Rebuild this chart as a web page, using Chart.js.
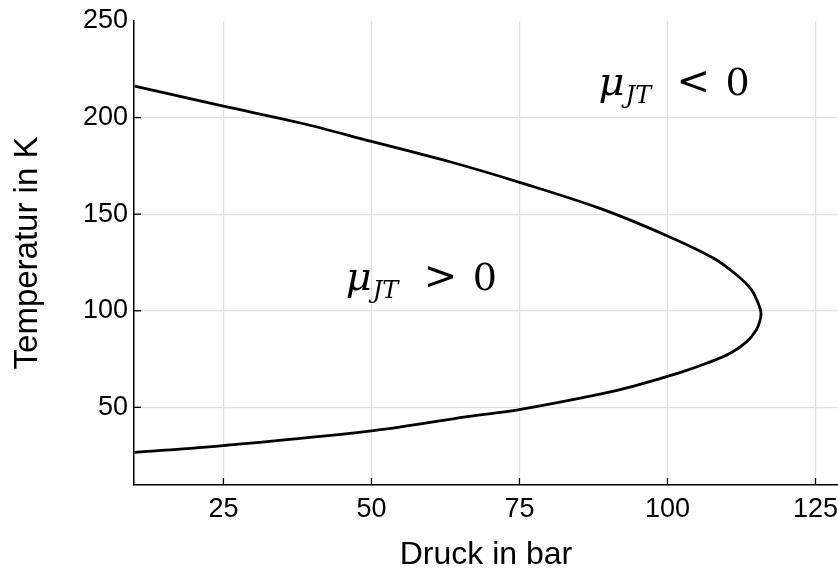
<!DOCTYPE html>
<html>
<head>
<meta charset="utf-8">
<script src="https://cdn.jsdelivr.net/npm/chart.js@4.4.0/dist/chart.umd.min.js"></script>
<style>
  body { margin: 0; background: #fff; }
  canvas { display: block; }
</style>
</head>
<body>
<canvas id="grafico" width="838" height="571"></canvas>
<script>
// Inversionskurve (Druck in bar, Temperatur in K), oberer Ast -> Spitze -> unterer Ast
var druck = [10, 25, 38, 50, 63.4, 75, 88.6, 99.8, 107.8, 111.7, 114.2, 115.5, 115.8, 115.6,
             115.0, 113.4, 110.6, 106.6, 102.1, 94.3, 88.6, 75, 66.2, 50, 25, 10];
var temperatur = [216.3, 205.9, 197.2, 187.7, 177, 166.5, 153, 139, 127.2, 118.5, 110.8, 102.5, 98.7, 94.6,
                  90.1, 84, 78, 72.8, 68, 61, 56.8, 48.8, 45.2, 37.8, 30.2, 26.7];

// Beschriftungen im Diagramm
var labels_mu = [
  { x: 88.7, y: 211.7, rel: '<' },
  { x: 46.0, y: 110.8, rel: '>' }
];

var punkte = druck.map(function (p, i) { return { x: p, y: temperatur[i] }; });

var fonte = "'Liberation Sans', Arial, sans-serif";
var serif = "'DejaVu Serif', serif";

// kleine Striche nach innen + mu-Texte
var extras = {
  id: 'extras',
  afterDatasetsDraw: function (chart) {
    var ctx = chart.ctx, a = chart.chartArea;
    var sx = chart.scales.x, sy = chart.scales.y;
    ctx.save();
    ctx.strokeStyle = '#000';
    ctx.lineWidth = 1.3;
    sx.ticks.forEach(function (t) {
      var px = sx.getPixelForValue(t.value);
      ctx.beginPath(); ctx.moveTo(px, a.bottom); ctx.lineTo(px, a.bottom - 7); ctx.stroke();
    });
    sy.ticks.forEach(function (t) {
      if (t.value >= 250) return;
      var py = sy.getPixelForValue(t.value);
      ctx.beginPath(); ctx.moveTo(a.left, py); ctx.lineTo(a.left + 7, py); ctx.stroke();
    });

    ctx.fillStyle = '#000';
    ctx.textBaseline = 'alphabetic';
    ctx.textAlign = 'left';
    labels_mu.forEach(function (l) {
      var px = sx.getPixelForValue(l.x), py = sy.getPixelForValue(l.y);
      ctx.font = 'italic 40px ' + serif;
      ctx.fillText('\u03bc', px - 2, py);
      ctx.font = 'italic 24px ' + serif;
      ctx.fillText('JT', px + 25, py + 8);
      ctx.font = '40px ' + serif;
      ctx.fillText(l.rel, px + 76, py - 1);
      ctx.font = '38px ' + serif;
      ctx.fillText('0', px + 125, py);
    });
    ctx.restore();
  }
};

new Chart(document.getElementById('grafico'), {
  type: 'scatter',
  data: {
    datasets: [{
      data: punkte,
      showLine: true,
      borderColor: '#000',
      borderWidth: 2.8,
      pointRadius: 0,
      tension: 0.35,
      fill: false
    }]
  },
  options: {
    responsive: false,
    devicePixelRatio: 1,
    animation: false,
    layout: { padding: { top: 21, right: 0, left: 0, bottom: 0 } },
    plugins: { legend: { display: false }, tooltip: { enabled: false } },
    scales: {
      x: {
        type: 'linear',
        min: 9.9,
        max: 128.8,
        afterFit: function (s) { s.height = 86; },
        ticks: { stepSize: 25, includeBounds: false, padding: 0, color: '#000',
                 font: { family: fonte, size: 27 } },
        grid: { color: '#e0e0e0', lineWidth: 1.2, tickLength: 8, tickColor: 'rgba(0,0,0,0)' },
        border: { color: '#000', width: 1.5 },
        title: { display: true, text: 'Druck in bar', color: '#000',
                 font: { family: fonte, size: 32, lineHeight: 1 }, padding: { top: 0, bottom: 0 } }
      },
      y: {
        type: 'linear',
        min: 9.8,
        max: 250,
        afterFit: function (s) { s.width = 134; },
        ticks: { stepSize: 50, includeBounds: false, padding: 0, color: '#000',
                 font: { family: fonte, size: 27 } },
        grid: {
          color: function (c) { return c.tick && c.tick.value >= 250 ? 'rgba(0,0,0,0)' : '#e0e0e0'; },
          lineWidth: 1.2, tickLength: 6, tickColor: 'rgba(0,0,0,0)'
        },
        border: { color: '#000', width: 1.5 },
        title: { display: true, text: 'Temperatur in K', color: '#000',
                 font: { family: fonte, size: 33, lineHeight: 1 }, padding: { top: 11, bottom: 0 } }
      }
    }
  },
  plugins: [extras]
});
</script>
</body>
</html>
